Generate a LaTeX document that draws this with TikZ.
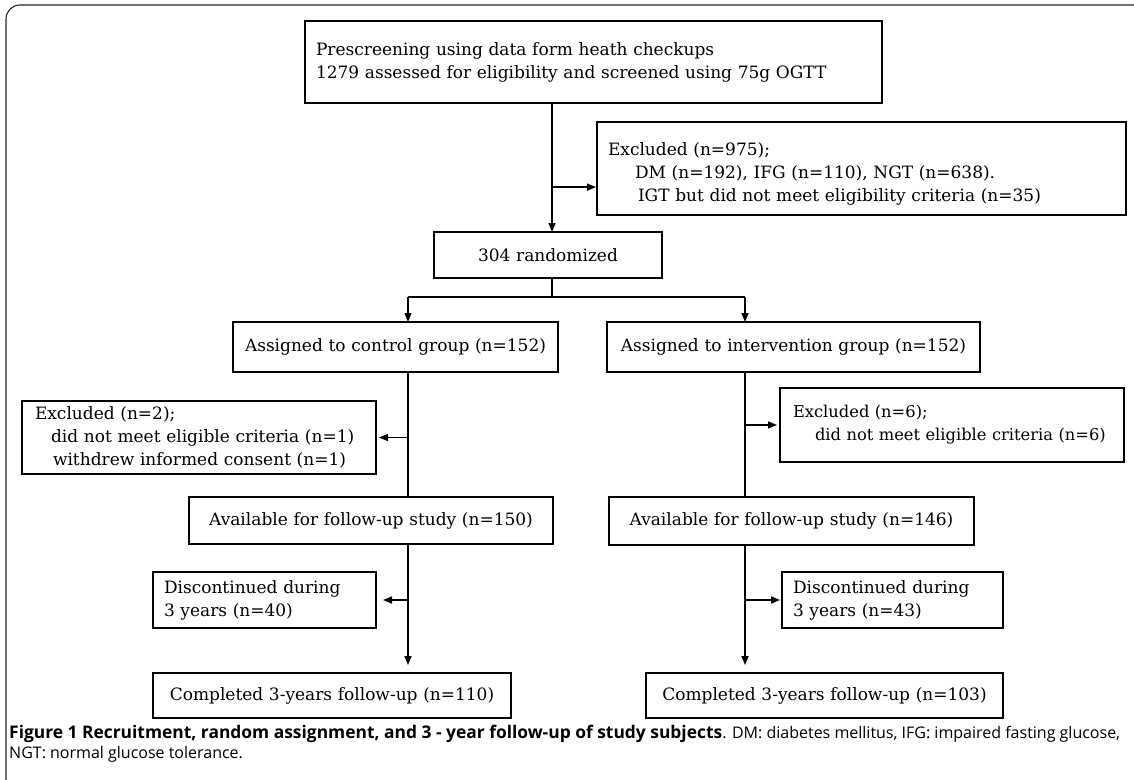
\documentclass[tikz,border=0pt]{standalone}
\usepackage{fontspec}
\newfontfamily\boxfont{DejaVu Serif}
\newfontfamily\capfont{Open Sans}
\usetikzlibrary{arrows.meta,calc}
\begin{document}
\begin{tikzpicture}[x=1pt,y=-1pt,
  box/.style={draw, line width=1.5pt, anchor=north west, inner xsep=10pt, inner ysep=0pt, outer sep=0pt,
    font=\boxfont\fontsize{17}{23}\selectfont},
  lbox/.style={box, align=left},
  cbox/.style={box, align=center},
  conn/.style={line width=1.5pt},
  arr/.style={conn, -{Triangle[length=9pt,width=7pt]}},
  frame/.style={line width=1.1pt, rounded corners=14pt, draw=black!85},
  captext/.style={anchor=base west, inner sep=0pt, font=\capfont\fontsize{16}{19}\selectfont},
]
\useasboundingbox (0,0) rectangle (1134,779);
\clip (0,0) rectangle (1134,779);
\draw[frame] (6,5) rectangle (1220,860);

% boxes
\node[lbox, minimum width=575pt, minimum height=82pt, text width=555pt, inner xsep=11pt] (top) at (305,21)
  {Prescreening using data form heath checkups\\1279 assessed for eligibility and screened using 75g OGTT};
\node[lbox, minimum width=529pt, minimum height=93pt, text width=507pt, inner xsep=11pt] (exc1) at (597,122)
  {\rule{0pt}{23pt}Excluded (n=975);\\\hspace*{27pt}DM (n=192), IFG (n=110), NGT (n=638).\\\hspace*{30pt}\mbox{IGT but did not meet eligibility criteria (n=35)}};
\node[cbox, minimum width=228pt, minimum height=46pt, text width=208pt] (rand) at (434,232) {304 randomized};
\node[cbox, minimum width=325pt, minimum height=50pt, text width=305pt] (ctrl) at (233,322) {Assigned to control group (n=152)};
\node[cbox, minimum width=373pt, minimum height=50pt, text width=353pt] (intv) at (607,322) {Assigned to intervention group (n=152)};
\node[lbox, minimum width=354pt, minimum height=73pt, text width=328pt, inner xsep=13pt] (exc2) at (22,401)
  {Excluded (n=2);\\\hspace*{16pt}\mbox{did not meet eligible criteria (n=1)}\\\hspace*{18pt}\mbox{withdrew informed consent (n=1)}};
\node[lbox, minimum width=344pt, minimum height=74pt, text width=318pt, inner xsep=13pt,
  font=\boxfont\fontsize{16.3}{23}\selectfont] (exc3) at (780,388)
  {Excluded (n=6);\\\hspace*{22pt}\mbox{did not meet eligible criteria (n=6)}};
\node[cbox, minimum width=364pt, minimum height=47pt, text width=344pt] (availL) at (189,497) {Available for follow-up study (n=150)};
\node[cbox, minimum width=365pt, minimum height=48pt, text width=345pt] (availR) at (609,497) {Available for follow-up study (n=146)};
\node[lbox, minimum width=222pt, minimum height=56pt, text width=201pt, inner xsep=11pt] (discL) at (153,572) {Discontinued during\\3 years (n=40)};
\node[lbox, minimum width=220pt, minimum height=56pt, text width=199pt, inner xsep=11pt] (discR) at (782,572) {Discontinued during\\3 years (n=43)};
\node[cbox, minimum width=358pt, minimum height=45pt, text width=338pt] (compL) at (153,673) {Completed 3-years follow-up (n=110)};
\node[cbox, minimum width=357pt, minimum height=45pt, text width=337pt] (compR) at (646,673) {Completed 3-years follow-up (n=103)};

% connectors
\coordinate (m) at (552,0);
\coordinate (b1) at ($(exc1.north west)!0.7!(exc1.south west)$);
\draw[arr] (m |- top.south) -- (m |- rand.north);
\draw[arr, shorten >=1pt] (m |- b1) -- (b1);
\coordinate (sL) at (408,297);
\coordinate (sR) at (745,297);
\draw[conn] (m |- rand.south) -- (m |- sL);
\draw[conn] (sL) -- (sR);
\draw[arr] (sL) -- (sL |- ctrl.north);
\draw[arr] (sR) -- (sR |- intv.north);
\draw[conn] (sL |- ctrl.south) -- (sL |- availL.north);
\draw[conn] (sR |- intv.south) -- (sR |- availR.north);
\draw[arr, shorten >=3pt] (sL |- exc2.east) -- (exc2.east);
\draw[arr, shorten >=3pt] (sR |- exc3.west) -- (exc3.west);
\draw[arr, shorten >=8pt] (sL |- availL.south) -- (sL |- compL.north);
\draw[arr, shorten >=8pt] (sR |- availR.south) -- (sR |- compR.north);
\draw[arr, shorten >=7pt] (sL |- discL.east) -- (discL.east);
\draw[arr, shorten >=2pt] (sR |- discR.west) -- (discR.west);

% caption
\node[captext] (cap1) at (9,738)
  {{\bfseries\fontsize{17.4}{19}\selectfont Figure 1 Recruitment, random assignment, and 3 - year follow-up of study subjects}. DM: diabetes mellitus, IFG: impaired fasting glucose,};
\node[captext] (cap2) at (9,758) {NGT: normal glucose tolerance.};
\end{tikzpicture}
\end{document}
